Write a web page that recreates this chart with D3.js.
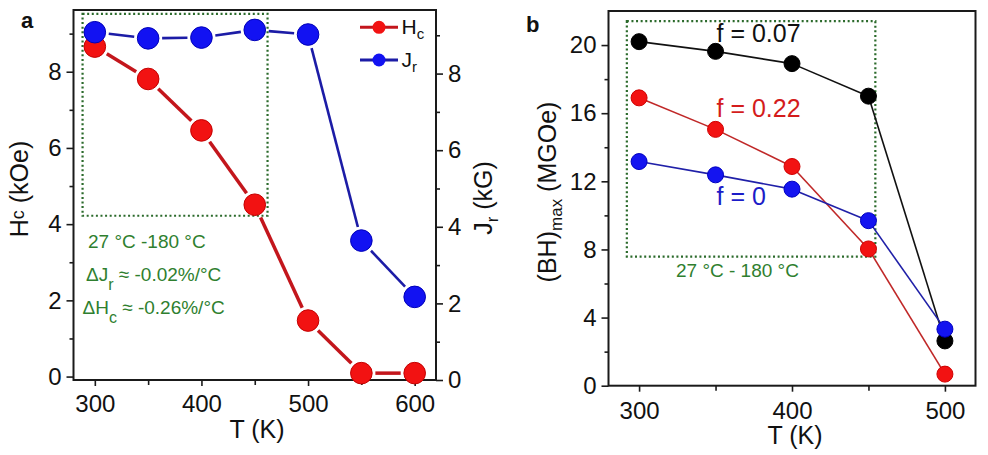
<!DOCTYPE html>
<html>
<head>
<meta charset="utf-8">
<script src="https://cdn.jsdelivr.net/npm/d3@7"></script>
<style>
  body { margin: 0; background: #fff; }
  svg { font-family: "Liberation Sans", Arial, sans-serif; }
</style>
</head>
<body>
<div id="chart"></div>
<script>
// panel a: coercivity and remanence vs temperature
const tempA = [300, 350, 400, 450, 500, 550, 600];
const hc = [8.66, 7.81, 6.46, 4.51, 1.47, 0.09, 0.09];
const jr = [9.08, 8.92, 8.94, 9.14, 9.02, 3.64, 2.17];

// panel b: energy product vs temperature
const tempB = [300, 350, 400, 450, 500];
const bh007 = [20.2, 19.63, 18.91, 17.0, 2.63];
const bh022 = [16.9, 15.05, 12.87, 8.03, 0.68];
const bh0 = [13.16, 12.38, 11.54, 9.69, 3.32];

const xTicksA = [300, 400, 500, 600], xMinorA = [350, 450, 550];
const yTicksA = [0, 2, 4, 6, 8], yMinorA = [1, 3, 5, 7, 9];
const xTicksB = [300, 400, 500], xMinorB = [350, 450];
const yTicksB = [0, 4, 8, 12, 16, 20], yMinorB = [2, 6, 10, 14, 18];

const width = 988, height = 455;
const green = "#2f7f2f";

const svg = d3.select("#chart").append("svg")
  .attr("width", width).attr("height", height)
  .attr("viewBox", [0, 0, width, height]);

// ---- scales
const xA = d3.scaleLinear().domain([280, 620]).range([73.5, 436]);
const yA = d3.scaleLinear().domain([-0.09, 9.62]).range([380, 10]);
const yA2 = d3.scaleLinear().domain([0, 9.66]).range([380, 10]);
const xB = d3.scaleLinear().domain([280, 520]).range([608.5, 975.5]);
const yB = d3.scaleLinear().domain([0, 22]).range([385.7, 11]);

function styleAxis(g) {
  g.select(".domain").remove();
  g.selectAll(".tick line").attr("stroke", "#1a1a1a").attr("stroke-width", 1.6);
  g.selectAll(".tick text").attr("font-size", 24).attr("fill", "#111")
    .attr("font-family", "Liberation Sans, Arial, sans-serif");
}

function drawAxes(x, y, xt, xm, yt, ym, padX) {
  const [x0, x1] = x.range(), [y0, y1] = y.range();
  svg.append("g").attr("transform", `translate(0,${y0})`)
    .call(d3.axisBottom(x).tickValues(xt).tickSize(6).tickPadding(padX).tickFormat(d3.format("d")))
    .call(styleAxis);
  svg.append("g").attr("transform", `translate(0,${y0})`)
    .call(d3.axisBottom(x).tickValues(xm).tickSize(5).tickFormat(""))
    .call(styleAxis);
  svg.append("g").attr("transform", `translate(${x0},0)`)
    .call(d3.axisLeft(y).tickValues(yt).tickSize(7).tickPadding(5))
    .call(styleAxis);
  svg.append("g").attr("transform", `translate(${x0},0)`)
    .call(d3.axisLeft(y).tickValues(ym).tickSize(4).tickFormat(""))
    .call(styleAxis);
  svg.append("rect")
    .attr("x", x0).attr("y", y1).attr("width", x1 - x0).attr("height", y0 - y1)
    .attr("fill", "none").attr("stroke", "#1a1a1a").attr("stroke-width", 2);
}

// dotted box given in data coords
function box(x, y, xr, yr) {
  svg.append("rect")
    .attr("x", x(xr[0])).attr("y", y(yr[1]))
    .attr("width", x(xr[1]) - x(xr[0])).attr("height", y(yr[0]) - y(yr[1]))
    .attr("fill", "none").attr("stroke", "#2b6a2b")
    .attr("stroke-width", 2.2).attr("stroke-dasharray", "2,2.6");
}

// line segments that stop short of the markers
function gappedLine(xs, ys, x, y, color, w, gap) {
  const pts = xs.map((t, i) => [x(t), y(ys[i])]);
  const segs = d3.pairs(pts).map(([a, b]) => {
    const dx = b[0] - a[0], dy = b[1] - a[1], L = Math.hypot(dx, dy);
    const ux = dx / L, uy = dy / L;
    return [a[0] + ux * gap, a[1] + uy * gap, b[0] - ux * gap, b[1] - uy * gap];
  });
  svg.append("g").selectAll("line").data(segs).join("line")
    .attr("x1", d => d[0]).attr("y1", d => d[1])
    .attr("x2", d => d[2]).attr("y2", d => d[3])
    .attr("stroke", color).attr("stroke-width", w);
}

function markers(xs, ys, x, y, fill, edge, r) {
  svg.append("g").selectAll("circle").data(xs).join("circle")
    .attr("cx", d => x(d)).attr("cy", (d, i) => y(ys[i])).attr("r", r)
    .attr("fill", fill).attr("stroke", edge).attr("stroke-width", 1);
}

// text with optional shifted (sub/super) parts
function label(x, y, parts, opts = {}) {
  const size = opts.size || 24;
  const t = svg.append("text").attr("x", x).attr("y", y)
    .attr("font-size", size).attr("fill", opts.color || "#111")
    .attr("font-weight", opts.weight || null);
  if (opts.rotate) t.attr("transform", `rotate(-90,${x},${y})`).attr("text-anchor", "middle");
  if (opts.anchor) t.attr("text-anchor", opts.anchor);
  let shift = 0;
  parts.forEach(p => {
    const s = t.append("tspan");
    if (typeof p === "string") {
      s.attr("font-size", size).attr("dy", -shift).text(p);
      shift = 0;
    } else {
      s.attr("font-size", p.size).attr("dy", p.dy - shift).text(p.t);
      shift = p.dy;
    }
  });
  return t;
}

// ================= panel a
drawAxes(xA, yA, xTicksA, xMinorA, yTicksA, yMinorA, 9);
svg.append("g").attr("transform", `translate(${xA.range()[1]},0)`)
  .call(d3.axisRight(yA2).tickValues(yTicksA).tickSize(7).tickPadding(5))
  .call(styleAxis);
svg.append("g").attr("transform", `translate(${xA.range()[1]},0)`)
  .call(d3.axisRight(yA2).tickValues(yMinorA).tickSize(4).tickFormat(""))
  .call(styleAxis);

box(xA, yA, [288.5, 462], [4.22, 9.52]);

gappedLine(tempA, hc, xA, yA, "#c3161c", 3.5, 14);
markers(tempA, hc, xA, yA, "#f21212", "#c40000", 10.8);
gappedLine(tempA, jr, xA, yA2, "#1c1ca6", 2.6, 14);
markers(tempA, jr, xA, yA2, "#1212f2", "#0000b8", 10.8);

// legend
[["#c3161c", "#f21212", 27.3, "H", "c"], ["#1c1ca6", "#1212f2", 60, "J", "r"]].forEach(([lc, mc, ly, a, s]) => {
  svg.append("line").attr("x1", 360).attr("x2", 398).attr("y1", ly).attr("y2", ly)
    .attr("stroke", lc).attr("stroke-width", 3);
  svg.append("circle").attr("cx", 379).attr("cy", ly).attr("r", 6.5).attr("fill", mc);
  label(401.5, ly + 7, [a, { t: s, size: 15, dy: 5 }], { size: 21 });
});

// annotation
label(88, 248, ["27 \u00B0C -180 \u00B0C"], { size: 19, color: green });
label(86, 281, ["\u0394J", { t: "r", size: 16, dy: 9 }, " \u2248 -0.02%/\u00B0C"], { size: 19, color: green });
label(82.5, 314, ["\u0394H", { t: "c", size: 16, dy: 9 }, " \u2248 -0.26%/\u00B0C"], { size: 19, color: green });

// titles
label(21, 28, ["a"], { size: 22, weight: "bold" });
label(257, 438, ["T (K)"], { size: 25, anchor: "middle" });
label(28, 189, ["H", { t: "c", size: 18, dy: -4 }, " (kOe)"], { size: 25, rotate: true });
label(492, 198, ["J", { t: "r", size: 17, dy: 6 }, " (kG)"], { size: 25, rotate: true });

// ================= panel b
drawAxes(xB, yB, xTicksB, xMinorB, yTicksB, yMinorB, 10);
box(xB, yB, [292, 454.5], [7.58, 21.4]);

gappedLine(tempB, bh007, xB, yB, "#111", 1.6, 0);
markers(tempB, bh007, xB, yB, "#000", "#000", 8);
gappedLine(tempB, bh022, xB, yB, "#c02828", 1.6, 0);
markers(tempB, bh022, xB, yB, "#f21212", "#d00000", 8);
gappedLine(tempB, bh0, xB, yB, "#2020a8", 1.6, 0);
markers(tempB, bh0, xB, yB, "#1414f0", "#0000c0", 8);

label(716.5, 41.5, ["f = 0.07"], { size: 25, color: "#111" });
label(716.5, 116.5, ["f = 0.22"], { size: 25, color: "#d41c1c" });
label(716.5, 205, ["f = 0"], { size: 25, color: "#1c1cc8" });
label(676, 277, ["27 \u00B0C - 180 \u00B0C"], { size: 19, color: green });

label(526, 31.5, ["b"], { size: 22, weight: "bold" });
label(795, 444, ["T (K)"], { size: 25, anchor: "middle" });
label(556, 192, ["(BH)", { t: "max", size: 17, dy: 6 }, " (MGOe)"], { size: 25, rotate: true });
</script>
</body>
</html>
